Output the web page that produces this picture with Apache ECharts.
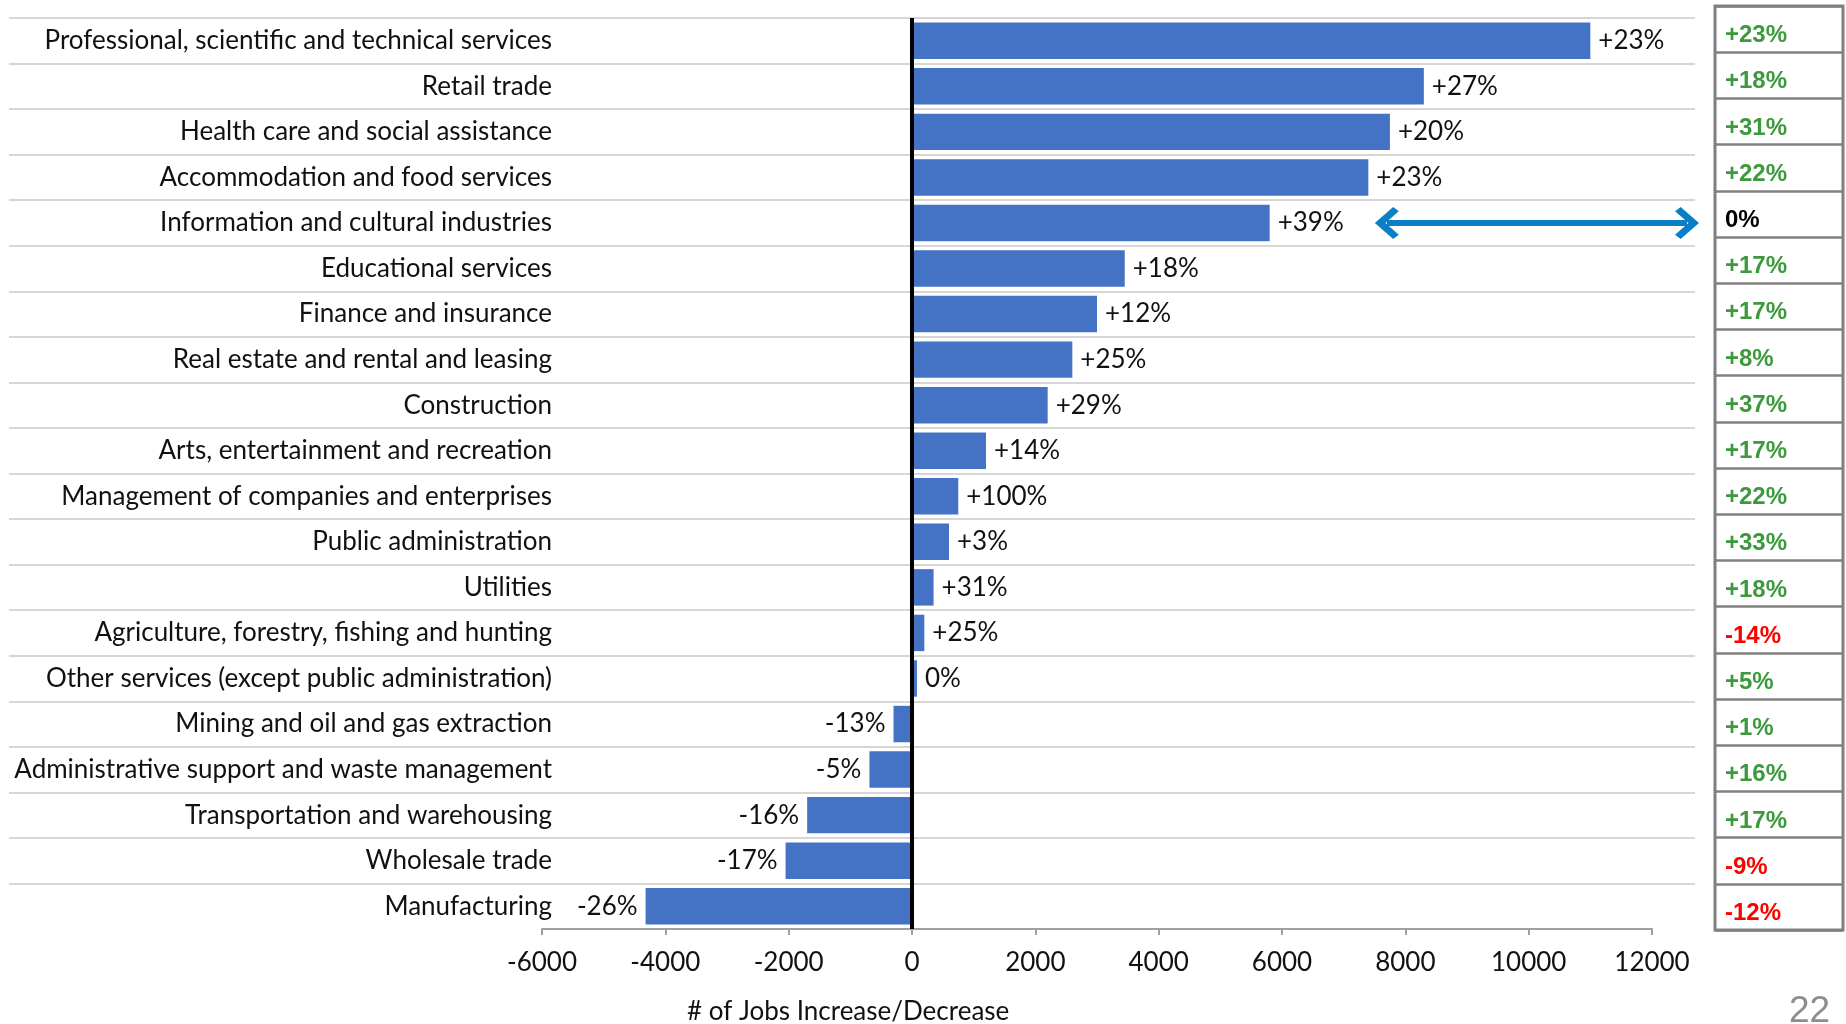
<!DOCTYPE html>
<html lang="en">

<head>
    <meta charset="UTF-8">
    <title>Jobs Increase/Decrease</title>
    <style>
        html, body {
            margin: 0;
            padding: 0;
            background: #fff;
        }

        #box {
            width: 1846px;
            height: 1024px;
        }
    </style>
    <script src="https://cdn.jsdelivr.net/npm/echarts@6/dist/echarts.min.js"></script>
</head>

<body>
    <div id="box"></div>
    <script>
        // industries, top to bottom
        const industries = [
            'Professional, scientific and technical services',
            'Retail trade',
            'Health care and social assistance',
            'Accommodation and food services',
            'Information and cultural industries',
            'Educational services',
            'Finance and insurance',
            'Real estate and rental and leasing',
            'Construction',
            'Arts, entertainment and recreation',
            'Management of companies and enterprises',
            'Public administration',
            'Utilities',
            'Agriculture, forestry, fishing and hunting',
            'Other services (except public administration)',
            'Mining and oil and gas extraction',
            'Administrative support and waste management',
            'Transportation and warehousing',
            'Wholesale trade',
            'Manufacturing'
        ]

        // # of jobs increase/decrease
        const jobChange = [11000, 8300, 7750, 7400, 5800, 3450, 3000, 2600, 2200, 1200,
            750, 600, 350, 200, 80, -300, -690, -1700, -2050, -4320]

        // percentage shown next to each bar
        const barPct = ['+23%', '+27%', '+20%', '+23%', '+39%', '+18%', '+12%', '+25%', '+29%', '+14%',
            '+100%', '+3%', '+31%', '+25%', '0%', '-13%', '-5%', '-16%', '-17%', '-26%']

        // percentages in the boxes on the right
        const sidePct = ['+23%', '+18%', '+31%', '+22%', '0%', '+17%', '+17%', '+8%', '+37%', '+17%',
            '+22%', '+33%', '+18%', '-14%', '+5%', '+1%', '+16%', '+17%', '-9%', '-12%']

        const xMin = -6000
        const xMax = 12000
        const xStep = 2000

        // arrow from the Information row to its box
        const arrowRow = 'Information and cultural industries'
        const arrowFrom = 7700

        const FONT = 'Lato'
        const box = document.querySelector('#box')
        const myChart = echarts.init(box)

        const barData = jobChange.map(function (v) {
            return {
                value: v,
                label: { position: v < 0 ? 'left' : 'right' }
            }
        })

        // open chevron head, pointing up (markLine turns it along the line)
        const chevron = 'path://M0,0 L10,8.4 L7.4,11 L0,4.8 L-7.4,11 L-10,8.4 Z'

        // row separators stop above the last row (no line under Manufacturing on the left)
        const rowLines = industries.slice(0, industries.length - 1)
        const plotTop = 18
        const plotH = 911

        const option = {
            animation: false,
            title: [{
                text: '# of Jobs Increase/Decrease',
                left: 687,
                top: 999,
                padding: 0,
                textStyle: { fontFamily: FONT, fontSize: 26, fontWeight: 'normal', color: '#111' }
            }, {
                text: '22',
                left: 1789,
                top: 993,
                padding: 0,
                textStyle: { fontFamily: 'Liberation Sans', fontSize: 37, fontWeight: 'normal', color: '#8c8c8c' }
            }],
            grid: [
                { left: 542, width: 1110, top: plotTop, height: plotH },   // bars
                { left: 9, width: 1686, top: plotTop, height: plotH * rowLines.length / industries.length }, // row lines
                { left: 1715, width: 128, top: 6, height: 924, show: true, borderColor: '#808080', borderWidth: 3 } // boxes
            ],
            xAxis: [{
                gridIndex: 0,
                type: 'value',
                min: xMin,
                max: xMax,
                interval: xStep,
                splitLine: { show: false },
                axisLine: { show: true, lineStyle: { color: '#a0a0a0', width: 2 } },
                axisTick: { show: true, length: 6, lineStyle: { color: '#a0a0a0', width: 2 } },
                axisLabel: {
                    fontFamily: FONT, fontSize: 26, color: '#111', margin: 21,
                    formatter: function (v) { return String(v) }
                }
            }, {
                gridIndex: 1,
                type: 'value',
                show: false
            }, {
                gridIndex: 2,
                type: 'value',
                show: false
            }],
            yAxis: [{
                gridIndex: 0,
                type: 'category',
                data: industries,
                inverse: true,
                axisLine: { show: false },
                axisTick: { show: false },
                axisLabel: { fontFamily: FONT, fontSize: 26, color: '#111', margin: -10 }
            }, {
                gridIndex: 1,
                type: 'category',
                data: rowLines,
                inverse: true,
                axisLine: { show: false },
                axisTick: { show: false },
                axisLabel: { show: false },
                splitLine: { show: true, lineStyle: { color: '#d6d6d6', width: 2 } }
            }, {
                gridIndex: 2,
                type: 'category',
                data: sidePct,
                inverse: true,
                axisLine: { show: false },
                axisTick: { show: false },
                splitLine: { show: true, lineStyle: { color: '#808080', width: 2.5 } },
                axisLabel: {
                    inside: true,
                    margin: 10,
                    padding: [13, 0, 0, 0],
                    formatter: function (v) {
                        if (v.charAt(0) === '+') return '{g|' + v + '}'
                        if (v.charAt(0) === '-') return '{r|' + v + '}'
                        return '{k|' + v + '}'
                    },
                    rich: {
                        g: { color: '#3c9a3c', fontFamily: 'Liberation Sans', fontWeight: 'bold', fontSize: 24 },
                        r: { color: '#ff0000', fontFamily: 'Liberation Sans', fontWeight: 'bold', fontSize: 24 },
                        k: { color: '#000000', fontFamily: 'Liberation Sans', fontWeight: 'bold', fontSize: 24 }
                    }
                }
            }],
            series: [{
                name: 'Jobs',
                type: 'bar',
                xAxisIndex: 0,
                yAxisIndex: 0,
                data: barData,
                barCategoryGap: '20%',
                clip: false,
                itemStyle: { color: '#4472c4' },
                label: {
                    show: true,
                    distance: 8,
                    fontFamily: FONT,
                    fontSize: 26,
                    color: '#111',
                    formatter: function (p) {
                        return barPct[p.dataIndex]
                    }
                },
                markLine: {
                    silent: true,
                    symbol: ['none', 'none'],
                    label: { show: false },
                    data: [
                        { xAxis: 0, lineStyle: { color: '#000', width: 4, type: 'solid' } },
                        [
                            { coord: [arrowFrom, arrowRow], symbol: chevron, symbolSize: [32, 24] },
                            // the head sits past the axis end, over the box edge
                            { x: 1687, y: plotTop + plotH * 4.5 / industries.length, symbol: chevron, symbolSize: [32, 24],
                              lineStyle: { color: '#0b7fc6', width: 6, type: 'solid' } }
                        ]
                    ]
                }
            }]
        }

        myChart.setOption(option)
    </script>

</body>

</html>
